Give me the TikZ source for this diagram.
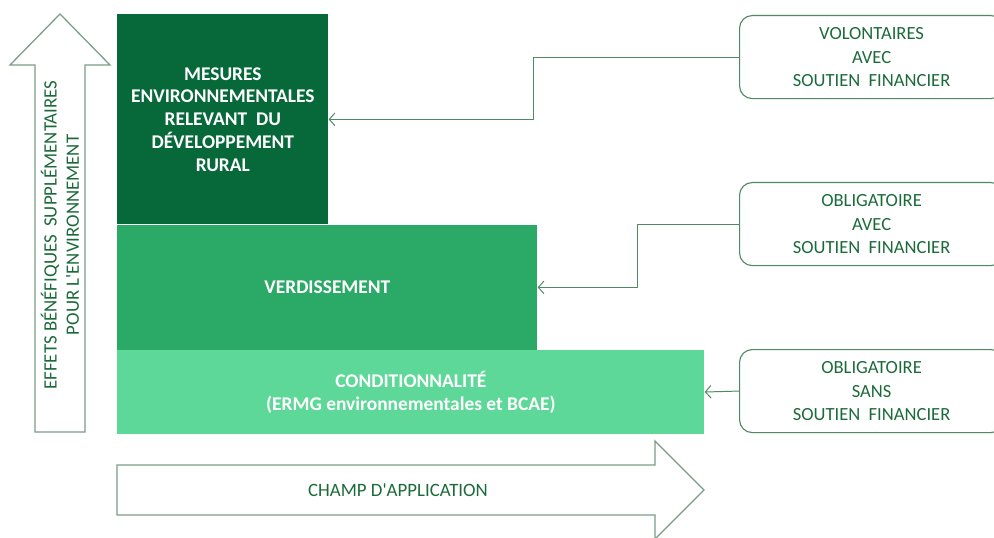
\documentclass[tikz,border=0pt]{standalone}
\usepackage{fontspec}
\setmainfont{Carlito}
\usetikzlibrary{arrows.meta, shapes, positioning}

\definecolor{darkgreen}{HTML}{07693A}
\definecolor{midgreen}{HTML}{2BAA67}
\definecolor{lightgreen}{HTML}{5ED898}
\definecolor{textgreen}{HTML}{1B6B3A}
\definecolor{linegreen}{HTML}{4F8A62}
\definecolor{arrowgreen}{HTML}{7A9E86}

\tikzset{
  block/.style={anchor=north west, inner sep=0pt, text=white, align=center,
    font=\bfseries\fontsize{13.8}{16.2}\selectfont},
  typebox/.style={draw=linegreen, line width=0.8pt, rounded corners=9pt, anchor=north west,
    minimum width=6.6cm, minimum height=2.075cm, inner sep=0pt, text=textgreen, align=center,
    font=\fontsize{13.2}{16.6}\selectfont},
  axislabel/.style={text=textgreen, align=center, inner sep=0pt, font=\fontsize{13.4}{15.8}\selectfont},
  bigarrow/.style={draw=arrowgreen, line width=0.9pt, fill=white},
  link/.style={draw=linegreen, line width=0.7pt, -{Straight Barb[length=4pt, width=9pt]}}
}

\begin{document}
\begin{tikzpicture}[x=0.025cm, y=-0.025cm]
    \clip (0,0) rectangle (994,538);

    % big arrows %
      \draw[bigarrow] (35,432) -- (35,65) -- (10,65) -- (60,14) -- (110,65) -- (85,65) -- (85,432) -- cycle;
      \node[axislabel, rotate=90] (effets) at (60,235) {EFFETS BÉNÉFIQUES\ \ SUPPLÉMENTAIRES\\POUR L\textquotesingle ENVIRONNEMENT};
      \draw[bigarrow] (117,465) -- (655,465) -- (655,441) -- (704,490) -- (655,539) -- (655,515) -- (117,515) -- cycle;
      \node[axislabel] (champ) at (398,490) {CHAMP D\textquotesingle APPLICATION};

    % nodes %
      \node[block, fill=darkgreen, minimum width=5.275cm, minimum height=5.25cm] (mesures) at (117,14)
        {MESURES\\ENVIRONNEMENTALES\\RELEVANT\ \ DU\\DÉVELOPPEMENT\\RURAL};
      \node[block, fill=midgreen, minimum width=10.5cm, minimum height=3.125cm, below right=0pt of mesures.south west]
        (verdis) {VERDISSEMENT};
      \node[block, fill=lightgreen, minimum width=14.675cm, minimum height=2.075cm, below right=0pt of verdis.south west]
        (condit) {CONDITIONNALITÉ\\(ERMG environnementales et BCAE)};

      \node[typebox] (volont) at (739,15) {VOLONTAIRES\\AVEC\\SOUTIEN\ \ FINANCIER};
      \node[typebox] (oblavec) at (739,182) {OBLIGATOIRE\\AVEC\\SOUTIEN\ \ FINANCIER};
      \node[typebox] (oblsans) at (739,349) {OBLIGATOIRE\\SANS\\SOUTIEN\ \ FINANCIER};

      \coordinate (bend1) at (533,0);
      \coordinate (bend2) at (637,0);

    % edges %
      \draw[link] (volont.west) -- (volont.west -| bend1) |- (mesures.east);
      \draw[link] (oblavec.west) -- (oblavec.west -| bend2) |- (verdis.east);
      \draw[link] (oblsans.west) -- (condit.east);
\end{tikzpicture}
\end{document}
